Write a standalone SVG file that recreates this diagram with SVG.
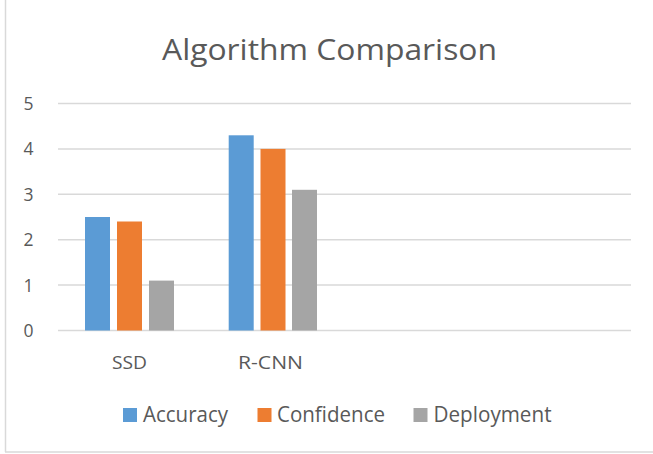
<svg xmlns="http://www.w3.org/2000/svg" width="653" height="454" viewBox="0 0 653 454">
<style>
.t{font-family:"Open Sans","Liberation Sans",sans-serif;fill:#595959}
.grid{stroke:#D9D9D9;stroke-width:1.5}
.ax{font-size:17.5px;text-anchor:end}
.cat{font-size:18.5px;text-anchor:middle}
.leg{font-size:21px}
.acc{fill:#5B9BD5}
.con{fill:#ED7D31}
.dep{fill:#A5A5A5}
</style>
<rect x="0" y="0" width="653" height="454" fill="#FFFFFF"/>
<g id="frame">
<line x1="5.5" y1="0" x2="5.5" y2="452" stroke="#D9D9D9" stroke-width="1.5"/>
<line x1="5" y1="452" x2="653" y2="452" stroke="#D9D9D9" stroke-width="1.5"/>
</g>
<g id="title">
<text class="t" x="162" y="59.5" font-size="30" textLength="335" lengthAdjust="spacingAndGlyphs">Algorithm Comparison</text>
</g>
<g id="gridlines">
<line class="grid" x1="58" y1="103.5" x2="631" y2="103.5"/>
<line class="grid" x1="58" y1="148.9" x2="631" y2="148.9"/>
<line class="grid" x1="58" y1="194.3" x2="631" y2="194.3"/>
<line class="grid" x1="58" y1="239.7" x2="631" y2="239.7"/>
<line class="grid" x1="58" y1="285.1" x2="631" y2="285.1"/>
<line class="grid" x1="58" y1="330.5" x2="631" y2="330.5"/>
</g>
<g id="y-axis">
<text class="t ax" x="33.5" y="110">5</text>
<text class="t ax" x="33.5" y="155.4">4</text>
<text class="t ax" x="33.5" y="200.8">3</text>
<text class="t ax" x="33.5" y="246.2">2</text>
<text class="t ax" x="33.5" y="291.6">1</text>
<text class="t ax" x="33.5" y="337">0</text>
</g>
<g id="ssd">
<rect class="acc" x="85" y="217" width="25" height="113.5"/>
<rect class="con" x="117" y="221.5" width="25" height="109"/>
<rect class="dep" x="149" y="280.6" width="25" height="49.9"/>
<text class="t cat" x="129.5" y="368.5" textLength="35" lengthAdjust="spacingAndGlyphs">SSD</text>
</g>
<g id="rcnn">
<rect class="acc" x="228.7" y="135.3" width="25" height="195.2"/>
<rect class="con" x="260.5" y="148.9" width="25" height="181.6"/>
<rect class="dep" x="292" y="189.8" width="25" height="140.7"/>
<text class="t cat" x="270.5" y="368.5" textLength="65" lengthAdjust="spacingAndGlyphs">R-CNN</text>
</g>
<g id="legend">
<rect class="acc" x="123" y="408" width="14" height="14"/>
<text class="t leg" x="143" y="421.7" textLength="85" lengthAdjust="spacingAndGlyphs">Accuracy</text>
<rect class="con" x="257.5" y="408" width="14" height="14"/>
<text class="t leg" x="277" y="421.7" textLength="108" lengthAdjust="spacingAndGlyphs">Confidence</text>
<rect class="dep" x="413.5" y="408" width="14" height="14"/>
<text class="t leg" x="433.5" y="421.7" textLength="118" lengthAdjust="spacingAndGlyphs">Deployment</text>
</g>
</svg>
